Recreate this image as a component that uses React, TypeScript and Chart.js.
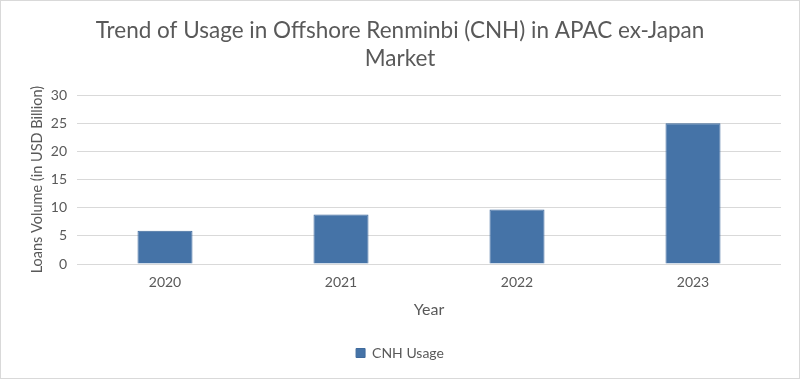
import React, { useEffect, useRef } from "react";
import { Chart, registerables } from "chart.js";

Chart.register(...registerables);

const categories = ["2020", "2021", "2022", "2023"];
const cnhUsage = [5.9, 8.8, 9.7, 25.0];
const seriesLabel = "CNH Usage";
const titleLines = ["Trend of Usage in Offshore Renminbi (CNH) in APAC ex-Japan", "Market"];
const yTitle = "Loans Volume (in USD Billion)";
const xTitle = "Year";

const FONT = "Lato, 'Open Sans', sans-serif";
const TEXT = "#595959";
const GRID = "#D9D9D9";

export default function App() {
  const ref = useRef<HTMLCanvasElement | null>(null);
  useEffect(() => {
    if (!ref.current) return;
    const chart = new Chart(ref.current, {
      type: "bar",
      data: {
        labels: categories,
        datasets: [
          {
            label: seriesLabel,
            data: cnhUsage,
            backgroundColor: "#4573A7",
            borderColor: "#3F6A9C",
            borderWidth: 1,
            barPercentage: 0.3125,
            categoryPercentage: 1,
          },
        ],
      },
      options: {
        animation: false,
        responsive: false,
        maintainAspectRatio: false,
        layout: { padding: { left: 0, right: 0, top: 0, bottom: 8 } },
        plugins: {
          title: {
            display: true,
            text: titleLines,
            color: TEXT,
            font: { family: FONT, size: 22.5, weight: "normal", lineHeight: 1.27 },
            padding: { top: 15, bottom: 22 },
          },
          legend: {
            display: true,
            position: "bottom",
            labels: {
              color: TEXT,
              font: { family: FONT, size: 14 },
              boxWidth: 9,
              boxHeight: 9,
              padding: 10,
            },
          },
          tooltip: { enabled: false },
        },
        scales: {
          x: {
            grid: { display: false },
            border: { display: false },
            ticks: {
              color: TEXT,
              font: { family: FONT, size: 14 },
              padding: 2,
            },
            title: {
              display: true,
              text: xTitle,
              color: TEXT,
              font: { family: FONT, size: 16 },
              padding: { top: 0, bottom: 17 },
            },
            afterFit: (scale: any) => {
              scale.height = 72;
            },
          },
          y: {
            min: 0,
            max: 30,
            ticks: {
              stepSize: 5,
              color: TEXT,
              font: { family: FONT, size: 14 },
              padding: 10,
            },
            grid: { color: GRID, lineWidth: 1, drawTicks: false },
            border: { display: false },
            title: {
              display: true,
              text: yTitle,
              color: TEXT,
              font: { family: FONT, size: 14.5 },
              padding: { top: 28, bottom: 0 },
            },
            afterFit: (scale: any) => {
              scale.width = 76;
            },
          },
          yRight: {
            type: "linear",
            position: "right",
            display: true,
            grid: { display: false },
            border: { display: false },
            ticks: { display: false },
            afterFit: (scale: any) => {
              scale.width = 18;
            },
          },
        },
      },
    });
    return () => chart.destroy();
  }, []);
  return (
    <div
      style={{
        position: "fixed",
        left: 0,
        top: 0,
        width: 800,
        height: 379,
        boxSizing: "border-box",
        border: "1px solid #D9D9D9",
        background: "#fff",
      }}
    >
      <canvas ref={ref} width={798} height={377} style={{ display: "block", width: 798, height: 377 }} />
    </div>
  );
}
